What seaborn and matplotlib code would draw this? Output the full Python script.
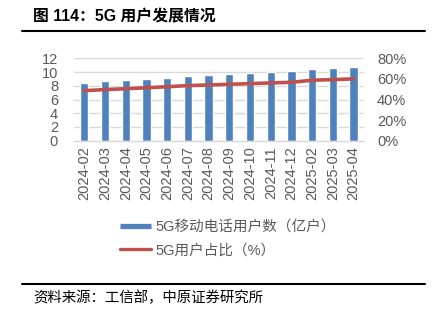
import numpy as np
import pandas as pd
import matplotlib
matplotlib.use("Agg")
import matplotlib.pyplot as plt
from matplotlib.lines import Line2D
from matplotlib.ticker import FuncFormatter, FixedLocator
import seaborn as sns

months = ["2024-02", "2024-03", "2024-04", "2024-05", "2024-06", "2024-07", "2024-08",
          "2024-09", "2024-10", "2024-11", "2024-12", "2025-02", "2025-03", "2025-04"]
users_100m = [8.45, 8.70, 8.85, 8.99, 9.18, 9.43, 9.58, 9.72, 9.87, 9.97, 10.11, 10.45, 10.60, 10.74]
share_pct = [48.6, 49.6, 50.5, 51.4, 52.4, 53.5, 54.1, 54.8, 55.4, 56.1, 56.7, 58.7, 59.3, 60.0]

bar_label = "5G移动电话用户数（亿户）"
line_label = "5G用户占比（%）"
title = "图 114：5G 用户发展情况"
source = "资料来源：工信部，中原证券研究所"

sns.set_theme(style="white")
plt.rcParams["font.family"] = ["Liberation Sans", "Noto Sans CJK SC", "DejaVu Sans"]

BLUE = "#4F81BD"
RED = "#C0504D"
GRAY = "#595959"

df = pd.DataFrame({"month": months, "users": users_100m, "share": share_pct})

W, H = 435, 322
fig = plt.figure(figsize=(W / 100, H / 100), dpi=100)
fig.patch.set_facecolor("white")

left, right, top, bottom = 74, 364, 58.3, 140.7
ax = fig.add_axes([left / W, 1 - bottom / H, (right - left) / W, (bottom - top) / H])

sns.barplot(data=df, x="month", y="users", color=BLUE, width=0.4, saturation=1,
            ax=ax, zorder=2)
ax.set_xlim(-0.5, len(months) - 0.5)
ax.set_ylim(0, 12)
ax.set_yticks(np.arange(0, 13, 2))
ax.set_xlabel("")
ax.set_ylabel("")
ax.grid(axis="y", color="#d9d9d9", linewidth=1.0, zorder=0)
ax.set_axisbelow(True)
for s in ["left", "right", "top"]:
    ax.spines[s].set_visible(False)
ax.spines["bottom"].set_color("#d9d9d9")
ax.spines["bottom"].set_linewidth(1.0)
ax.tick_params(axis="y", length=0, labelsize=10.5, labelcolor=GRAY, pad=11.5)
ax.tick_params(axis="x", which="major", length=0, labelsize=10.5, labelcolor=GRAY,
               labelrotation=90, pad=4)
ax.xaxis.set_minor_locator(FixedLocator(np.arange(-0.5, len(months), 1)))
ax.tick_params(axis="x", which="minor", length=5, color="#d9d9d9", width=1.0)

ax2 = ax.twinx()
sns.lineplot(x=np.arange(len(months)), y=df["share"], color=RED, linewidth=2.6,
             ax=ax2, zorder=3)
ax2.set_ylim(0, 80)
ax2.set_yticks(np.arange(0, 81, 20))
ax2.yaxis.set_major_formatter(FuncFormatter(lambda v, p: f"{v:.0f}%"))
ax2.set_ylabel("")
for s in ["left", "right", "top", "bottom"]:
    ax2.spines[s].set_visible(False)
ax2.tick_params(axis="y", length=0, labelsize=10.5, labelcolor=GRAY, pad=9.4)

handles = [Line2D([0], [0], color=BLUE, linewidth=3.8, solid_capstyle="butt"),
           Line2D([0], [0], color=RED, linewidth=2.4, solid_capstyle="round")]
leg = fig.legend(handles, [bar_label, line_label], loc="upper left",
                 bbox_to_anchor=(120 / W, 1 - 220 / H), frameon=False,
                 fontsize=10.5, handlelength=2.1, handletextpad=0.35,
                 labelspacing=0.65, borderpad=0, borderaxespad=0)
for t in leg.get_texts():
    t.set_color(GRAY)

fig.text(33 / W, 1 - 17 / H, title, fontsize=11.4, fontweight="bold", color="black",
         va="center", ha="left")
fig.add_artist(Line2D([22 / W, 425 / W], [1 - 31 / H, 1 - 31 / H], color="black",
                      linewidth=1.5))
fig.add_artist(Line2D([22 / W, 425 / W], [1 - 284 / H, 1 - 284 / H], color="black",
                      linewidth=1.5))
fig.text(33 / W, 1 - 298 / H, source, fontsize=10.4, color="black", va="center", ha="left")

fig.savefig("out.png", dpi=100, facecolor="white")
